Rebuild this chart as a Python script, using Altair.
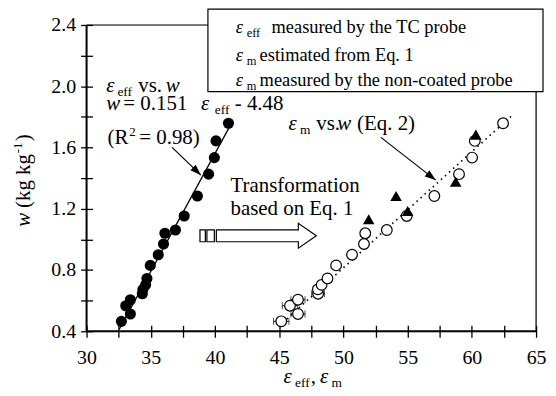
import math
import altair as alt
import pandas as pd

# ---------------- data ----------------
w_vals = [0.465, 0.513, 0.567, 0.606, 0.645, 0.674, 0.703, 0.745, 0.830, 0.900,
          0.970, 1.040, 1.061, 1.153, 1.283, 1.426, 1.534, 1.643, 1.758]
eps_eff = [32.71, 33.41, 33.05, 33.41, 34.34, 34.39, 34.60, 34.70, 34.96, 35.58,
           35.99, 36.10, 36.92, 37.60, 38.63, 39.50, 39.95, 40.08, 41.05]
eps_m_est = [45.16, 46.46, 45.84, 46.46, 48.03, 48.01, 48.30, 48.76, 49.43, 50.67,
             51.60, 51.70, 53.38, 54.93, 57.08, 59.00, 60.02, 60.23, 62.43]
err_half = [0.60, 0.55, 0.60, 0.55, 0.50]          # on the 5 lowest open circles

eps_m_meas = [51.97, 54.10, 55.00, 58.74, 60.31]
w_meas = [1.131, 1.283, 1.185, 1.376, 1.684]

fit_eps = [32.55, 41.33]          # solid fit line  w = 0.151 e_eff - 4.48
fit_w = [0.413, 1.766]
eq2_eps = [44.95, 63.22]          # dotted line (Eq. 2)
eq2_w = [0.432, 1.816]

x_ticks = [30, 32.5, 35, 37.5, 40, 42.5, 45, 47.5, 50, 52.5, 55, 57.5, 60, 62.5, 65]
y_ticks = [0.4, 0.6, 0.8, 1.0, 1.2, 1.4, 1.6, 1.8, 2.0, 2.2, 2.4]

FONT = "Liberation Serif, Times New Roman, DejaVu Serif, serif"
PXX = 452 / 35.0   # px per x unit
PXY = 308 / 2.0    # px per y unit

xs = alt.Scale(domain=[30, 65], nice=False, zero=False)
ys = alt.Scale(domain=[0.4, 2.4], nice=False, zero=False)
xaxis = alt.Axis(values=x_ticks, title=None, grid=False, domain=False, ticks=True,
                 tickSize=12, tickWidth=1.3, tickColor="black", offset=-6,
                 labelExpr="datum.value % 5 == 0 ? format(datum.value, 'd') : ''",
                 labelFont=FONT, labelFontSize=20, labelColor="black",
                 labelPadding=10, labelFlush=False, labelOverlap=False)
yaxis = alt.Axis(values=y_ticks, title=None, grid=False, domain=False, ticks=True,
                 tickSize=12, tickWidth=1.3, tickColor="black", offset=-6,
                 labelExpr="round(datum.value * 10) % 4 == 0 ? format(datum.value, '.1f') : ''",
                 labelFont=FONT, labelFontSize=20, labelColor="black",
                 labelPadding=5, labelFlush=False, labelOverlap=False)


def X(f):
    return alt.X(f, type="quantitative", scale=xs, axis=xaxis)


def Y(f):
    return alt.Y(f, type="quantitative", scale=ys, axis=yaxis)


layers = []

# frame
frame_lb = pd.DataFrame({"x": [30, 30], "x2": [30, 65], "y": [0.4, 0.4], "y2": [2.4, 0.4]})
frame_tr = pd.DataFrame({"x": [30, 65], "x2": [65, 65], "y": [2.4, 0.4], "y2": [2.4, 2.4]})
layers.append(alt.Chart(frame_lb).mark_rule(color="black", strokeWidth=2).encode(
    x=X("x"), x2="x2", y=Y("y"), y2="y2"))
layers.append(alt.Chart(frame_tr).mark_rule(color="black", strokeWidth=1.2).encode(
    x=X("x"), x2="x2", y=Y("y"), y2="y2"))

# fit line and Eq. 2 line
fit_df = pd.DataFrame({"e": fit_eps, "w": fit_w})
layers.append(alt.Chart(fit_df).mark_line(color="black", strokeWidth=1.3).encode(x=X("e"), y=Y("w")))
eq2_df = pd.DataFrame({"e": eq2_eps, "w": eq2_w})
layers.append(alt.Chart(eq2_df).mark_line(color="black", strokeWidth=1.6, strokeDash=[1.5, 4]).encode(
    x=X("e"), y=Y("w")))

# error bars
eb = pd.DataFrame({"e": eps_m_est[:5], "w": w_vals[:5], "h": err_half})
eb["lo"] = eb["e"] - eb["h"]
eb["hi"] = eb["e"] + eb["h"]
layers.append(alt.Chart(eb).mark_rule(color="black", strokeWidth=1).encode(x=X("lo"), x2="hi", y=Y("w")))
layers.append(alt.Chart(eb).mark_tick(color="black", orient="vertical", size=7, thickness=1).encode(
    x=X("lo"), y=Y("w")))
layers.append(alt.Chart(eb).mark_tick(color="black", orient="vertical", size=7, thickness=1).encode(
    x=X("hi"), y=Y("w")))

# points
eff_df = pd.DataFrame({"e": eps_eff, "w": w_vals})
layers.append(alt.Chart(eff_df).mark_point(shape="circle", filled=True, color="black", size=125,
                                           opacity=1).encode(x=X("e"), y=Y("w")))
est_df = pd.DataFrame({"e": eps_m_est, "w": w_vals})
layers.append(alt.Chart(est_df).mark_point(shape="circle", filled=True, fill="white", stroke="black",
                                           strokeWidth=1.2, size=115, opacity=1).encode(x=X("e"), y=Y("w")))
meas_df = pd.DataFrame({"e": eps_m_meas, "w": w_meas})
layers.append(alt.Chart(meas_df).mark_point(shape="triangle-up", filled=True, color="black", size=135,
                                            opacity=1).encode(x=X("e"), y=Y("w")))

# thin arrows
arr = pd.DataFrame({"x0": [36.66, 52.92], "y0": [1.601, 1.666], "x1": [38.905, 57.18], "y1": [1.4195, 1.387]})
arr["ang"] = [math.degrees(math.atan2((a - b) * PXY, (d - c) * PXX))
              for a, b, c, d in zip(arr["y0"], arr["y1"], arr["x0"], arr["x1"])]
layers.append(alt.Chart(arr).mark_rule(color="black", strokeWidth=1.2).encode(
    x=X("x0"), x2="x1", y=Y("y0"), y2="y1"))
layers.append(alt.Chart(arr).mark_point(shape="M0,0L-2,-0.7L-2,0.7Z", filled=True, color="black",
                                        size=121, opacity=1, strokeWidth=0).encode(
    x=X("x1"), y=Y("y1"), angle=alt.Angle("ang", type="quantitative", scale=None)))

# hollow block arrow ("Transformation based on Eq. 1")
blk = pd.DataFrame({
    "x": [40.105, 46.49, 46.49, 47.89, 46.49, 46.49, 40.105, 40.105],
    "y": [1.0623, 1.0623, 1.1045, 1.0234, 0.9422, 0.9844, 0.9844, 1.0623],
    "o": list(range(8)),
})
layers.append(alt.Chart(blk).mark_line(color="black", strokeWidth=1.2).encode(
    x=X("x"), y=Y("y"), order="o"))
small = pd.DataFrame({"x": [38.83, 39.37], "x2": [39.25, 39.95], "y": [0.9844, 0.9844], "y2": [1.0623, 1.0623]})
layers.append(alt.Chart(small).mark_rect(fill="white", stroke="black", strokeWidth=1.2).encode(
    x=X("x"), x2="x2", y=Y("y"), y2="y2"))

# legend box
box = pd.DataFrame({"x": [39.45], "x2": [65.54], "y": [1.965], "y2": [2.504]})
layers.append(alt.Chart(box).mark_rect(fill="white", stroke="black", strokeWidth=1.2).encode(
    x=X("x"), x2="x2", y=Y("y"), y2="y2"))

# text segments (x, y in data units)
seg = [
    # legend
    (41.615, 2.350, "ε", "li"), (42.467, 2.324, "eff", "ls"), (44.403, 2.350, "measured by the TC probe", "lr"),
    (41.615, 2.166, "ε", "li"), (42.467, 2.140, "m", "ls"), (43.474, 2.166, "estimated from Eq. 1", "lr"),
    (41.615, 2.004, "ε", "li"), (42.467, 1.978, "m", "ls"), (43.474, 2.004, "measured by the non-coated probe", "lr"),
    # eff vs w
    (31.525, 1.960, "ε", "i"), (32.400, 1.934, "eff", "s"), (34.027, 1.960, "vs.", "r"), (36.172, 1.960, "w", "i"),
    (31.525, 1.842, "w", "i"), (32.865, 1.842, "= 0.151", "r"), (38.905, 1.842, "ε", "i"),
    (39.990, 1.816, "eff", "s"), (41.538, 1.842, "- 4.48", "r"),
    (31.626, 1.625, "(R", "r"), (33.330, 1.677, "2", "p"), (34.104, 1.625, "= 0.98)", "r"),
    # em vs w
    (45.719, 1.712, "ε", "i"), (46.625, 1.686, "m", "s"), (47.888, 1.712, "vs.", "r"),
    (49.514, 1.712, "w", "i"), (51.063, 1.712, "(Eq. 2)", "r"),
    # transformation
    (41.205, 1.311, "Transformation", "r"), (41.205, 1.160, "based on Eq. 1", "r"),
    # x title
    (45.332, 0.0623, "ε", "i"), (46.238, 0.0364, "eff", "s"), (47.462, 0.0623, ",", "r"),
    (48.174, 0.0623, "ε", "i"), (49.072, 0.0364, "m", "s"),
]
seg_df = pd.DataFrame(seg, columns=["x", "y", "t", "k"])
styles = {
    "r": (21, "normal"), "i": (21, "italic"), "s": (13.5, "normal"), "p": (13, "normal"),
    "lr": (18.5, "normal"), "li": (18.5, "italic"), "ls": (12.5, "normal"),
}
for k, (fs, st) in styles.items():
    d = seg_df[seg_df["k"] == k]
    layers.append(alt.Chart(d).mark_text(align="left", baseline="alphabetic", font=FONT, fontSize=fs,
                                         fontStyle=st, color="black").encode(
        x=X("x"), y=Y("y"), text="t"))

# y title (rotated)
yseg = pd.DataFrame([
    (25.586, 1.082, "w", "i"), (25.586, 1.205, "(kg kg", "r"), (24.967, 1.562, "-1", "p"), (25.586, 1.640, ")", "r"),
], columns=["x", "y", "t", "k"])
for k, (fs, st) in {"r": (21, "normal"), "i": (21, "italic"), "p": (13, "normal")}.items():
    d = yseg[yseg["k"] == k]
    layers.append(alt.Chart(d).mark_text(align="left", baseline="alphabetic", angle=270, font=FONT,
                                         fontSize=fs, fontStyle=st, color="black").encode(
        x=X("x"), y=Y("y"), text="t"))

chart = alt.layer(*layers).properties(
    width=452, height=308,
    autosize=alt.AutoSizeParams(type="none"),
    padding={"left": 79, "top": 16, "right": 12, "bottom": 60},
    background="white",
).configure_view(stroke=None).configure(font=FONT)

chart.save("out.html", embed_options={"renderer": "svg", "actions": False})
